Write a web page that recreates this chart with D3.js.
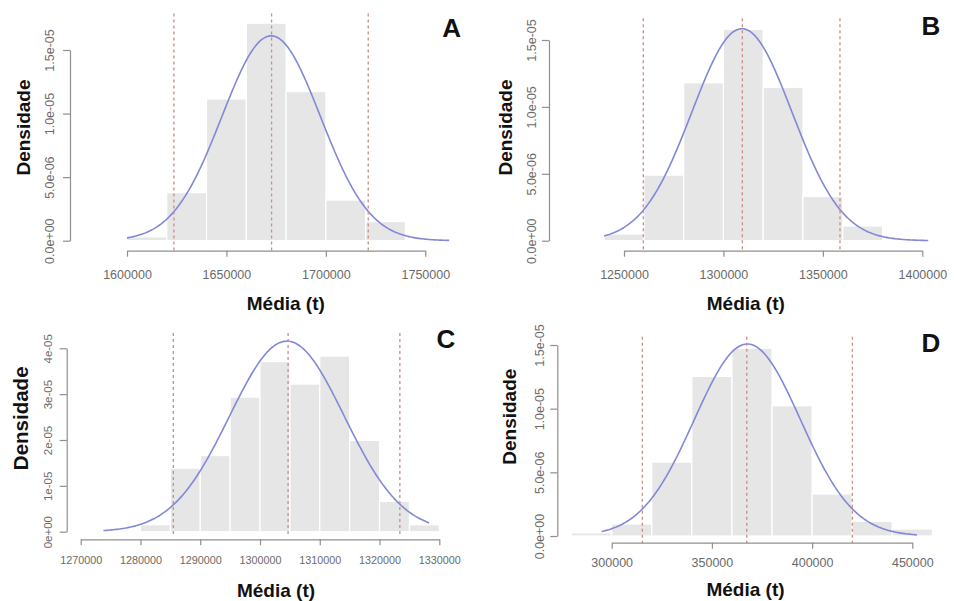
<!DOCTYPE html>
<html><head><meta charset="utf-8">
<script src="https://cdn.jsdelivr.net/npm/d3@7"></script>
<style>body{margin:0;background:#fff}svg{display:block}</style>
</head><body><svg id="c" width="954" height="601"></svg>
<script>
// ---------------- DATA ----------------
const panelLabels = ["A", "B", "C", "D"];

const binEdgesA = [1600000,1620000,1640000,1660000,1680000,1700000,1720000,1740000];
const densityA  = [0.3e-6, 3.78e-6, 1.115e-5, 1.711e-5, 1.173e-5, 3.2e-6, 1.5e-6];
const binEdgesB = [1240000,1260000,1280000,1300000,1320000,1340000,1360000,1380000];
const densityB  = [0.5e-6, 4.9e-6, 1.18e-5, 1.58e-5, 1.145e-5, 3.3e-6, 1.1e-6];
const binEdgesC = [1270000,1275000,1280000,1285000,1290000,1295000,1300000,1305000,1310000,1315000,1320000,1325000,1330000];
const densityC  = [0.3e-6, 0.3e-6, 1.5e-6, 1.384e-5, 1.66e-5, 2.935e-5, 3.71e-5, 3.22e-5, 3.83e-5, 1.99e-5, 0.66e-5, 0.15e-5];
const binEdgesD = [280000,300000,320000,340000,360000,380000,400000,420000,440000,460000];
const densityD  = [0.25e-6, 0.94e-6, 5.8e-6, 1.253e-5, 1.474e-5, 1.023e-5, 3.3e-6, 1.15e-6, 0.55e-6];

// fitted normal curve parameters: mean, sd, x from, x to
const normalA = [1672500, 24760, 1600000, 1762000];
const normalB = [1309300, 25180, 1240000, 1403000];
const normalC = [1304500, 9600, 1273800, 1328300];
const normalD = [367700, 26460, 295000, 452300];

// dashed reference lines (lower limit, mean, upper limit)
const vlinesA = [1623600, 1672700, 1721300];
const vlinesB = [1259700, 1309500, 1358600];
const vlinesC = [1285500, 1304700, 1323400];
const vlinesD = [315300, 367400, 420100];

const xTicksA = [1600000, 1650000, 1700000, 1750000];
const xTicksB = [1250000, 1300000, 1350000, 1400000];
const xTicksC = [1270000, 1280000, 1290000, 1300000, 1310000, 1320000, 1330000];
const xTicksD = [300000, 350000, 400000, 450000];

const yTicksA = [0, 5e-6, 1e-5, 1.5e-5];
const yTicksB = [0, 5e-6, 1e-5, 1.5e-5];
const yTicksC = [0, 1e-5, 2e-5, 3e-5, 4e-5];
const yTicksD = [0, 5e-6, 1e-5, 1.5e-5];
const yTickLabelsA = ["0.0e+00", "5.0e-06", "1.0e-05", "1.5e-05"];
const yTickLabelsB = ["0.0e+00", "5.0e-06", "1.0e-05", "1.5e-05"];
const yTickLabelsC = ["0e+00", "1e-05", "2e-05", "3e-05", "4e-05"];
const yTickLabelsD = ["0.0e+00", "5.0e-06", "1.0e-05", "1.5e-05"];

const xTitle = "Média (t)";
const yTitle = "Densidade";

// ---------------- LAYOUT ----------------
const layout = [
  {xr:[127,425.3], yr:[240.7,50], axisY:250.7, axisX:70, xLabY:279.5, yLabX:49.5, dash:[13.5,250.7],
   xt:[285.8,310], yt:[23.5,127.5], yts:19, letter:[451.7,37.3], tf:12.5, ytf:12.5},
  {xr:[624,922.3], yr:[240.7,40], axisY:250.7, axisX:549, xLabY:279.5, yLabX:531.7, dash:[18.3,250.7],
   xt:[745.8,310], yt:[505.8,127.5], yts:19, letter:[931,35], tf:12.5, ytf:12.5},
  {xr:[80.7,439.3], yr:[531.7,348.3], axisY:539.3, axisX:66.7, xLabY:564.5, yLabX:48, dash:[333,534],
   xt:[276,597], yt:[20,418.3], yts:20.5, letter:[446,348.3], tf:10.8, ytf:11.5},
  {xr:[611.7,912.3], yr:[536,345], axisY:542.7, axisX:557.3, xLabY:567.5, yLabX:540, dash:[336.7,543],
   xt:[745.5,596], yt:[509,416.7], yts:19, letter:[931,351.7], tf:12.5, ytf:12.5}
];

const panels = [
  {edges:binEdgesA, dens:densityA, norm:normalA, vl:vlinesA, xt:xTicksA, yt:yTicksA, ytl:yTickLabelsA},
  {edges:binEdgesB, dens:densityB, norm:normalB, vl:vlinesB, xt:xTicksB, yt:yTicksB, ytl:yTickLabelsB},
  {edges:binEdgesC, dens:densityC, norm:normalC, vl:vlinesC, xt:xTicksC, yt:yTicksC, ytl:yTickLabelsC},
  {edges:binEdgesD, dens:densityD, norm:normalD, vl:vlinesD, xt:xTicksD, yt:yTicksD, ytl:yTickLabelsD}
];

const svg = d3.select("#c");
const FONT = "'Liberation Sans', Arial, Helvetica, sans-serif";
const axisColor = "#8f8f8f";
const tickText = "#6a6a6a";

panels.forEach((p, i) => {
  const L = layout[i];
  const xt = p.xt, yt = p.yt;
  const x = d3.scaleLinear().domain([xt[0], xt[xt.length-1]]).range(L.xr);
  const y = d3.scaleLinear().domain([yt[0], yt[yt.length-1]]).range(L.yr);
  const g = svg.append("g");

  // histogram bars
  const bars = p.dens.map((d, k) => ({x0: p.edges[k], x1: p.edges[k+1], d}));
  g.append("g").selectAll("rect").data(bars).join("rect")
    .attr("x", b => x(b.x0)).attr("width", b => x(b.x1) - x(b.x0))
    .attr("y", b => y(b.d)).attr("height", b => y(0) - y(b.d))
    .attr("fill", "#e6e6e6").attr("stroke", "#ffffff").attr("stroke-width", 1.2);

  // normal curve
  const [mu, sd, a, b] = p.norm;
  const pts = d3.range(0, 201).map(k => {
    const xv = a + (b - a) * k / 200;
    return [xv, Math.exp(-0.5 * ((xv - mu) / sd) ** 2) / (sd * Math.sqrt(2 * Math.PI))];
  });
  g.append("path").datum(pts)
    .attr("d", d3.line().x(d => x(d[0])).y(d => y(d[1])))
    .attr("fill", "none").attr("stroke", "#8388d6").attr("stroke-width", 1.6);

  // dashed vertical lines
  g.append("g").selectAll("line").data(p.vl).join("line")
    .attr("x1", d => x(d)).attr("x2", d => x(d))
    .attr("y1", L.dash[0]).attr("y2", L.dash[1])
    .attr("stroke", "#c98e86").attr("stroke-width", 1.3).attr("stroke-dasharray", "3,3");

  // x axis
  const gx = g.append("g").attr("transform", `translate(0,${L.axisY})`)
    .call(d3.axisBottom(x).tickValues(xt).tickFormat(d3.format("d")).tickSize(6).tickSizeOuter(0));
  gx.select(".domain").attr("stroke", axisColor).attr("stroke-width", 1.2);
  gx.selectAll(".tick line").attr("stroke", axisColor).attr("stroke-width", 1.2);
  gx.selectAll(".tick text").attr("y", L.xLabY - L.axisY).attr("dy", null)
    .attr("fill", tickText).style("font-family", FONT).style("font-size", L.tf + "px");

  // y axis
  const gy = g.append("g").attr("transform", `translate(${L.axisX},0)`)
    .call(d3.axisLeft(y).tickValues(yt).tickFormat((d, k) => p.ytl[k]).tickSize(7).tickSizeOuter(0));
  gy.select(".domain").attr("stroke", axisColor).attr("stroke-width", 1.2);
  gy.selectAll(".tick line").attr("stroke", axisColor).attr("stroke-width", 1.2);
  gy.selectAll(".tick text").attr("x", null).attr("dy", null)
    .attr("transform", `translate(${L.yLabX - L.axisX},0) rotate(-90)`)
    .attr("text-anchor", "middle").attr("dominant-baseline", "central")
    .attr("fill", tickText).style("font-family", FONT).style("font-size", L.ytf + "px");

  // titles
  g.append("text").attr("x", L.xt[0]).attr("y", L.xt[1]).attr("text-anchor", "middle")
    .style("font-family", FONT).style("font-weight", "bold").style("font-size", "19px")
    .attr("fill", "#111").text(xTitle);
  g.append("text").attr("transform", `translate(${L.yt[0]},${L.yt[1]}) rotate(-90)`)
    .attr("text-anchor", "middle").attr("dominant-baseline", "central")
    .style("font-family", FONT).style("font-weight", "bold").style("font-size", L.yts + "px")
    .attr("fill", "#111").text(yTitle);
  g.append("text").attr("x", L.letter[0]).attr("y", L.letter[1]).attr("text-anchor", "middle")
    .style("font-family", FONT).style("font-weight", "bold").style("font-size", "26px")
    .attr("fill", "#111").text(panelLabels[i]);
});
</script>
</body></html>
